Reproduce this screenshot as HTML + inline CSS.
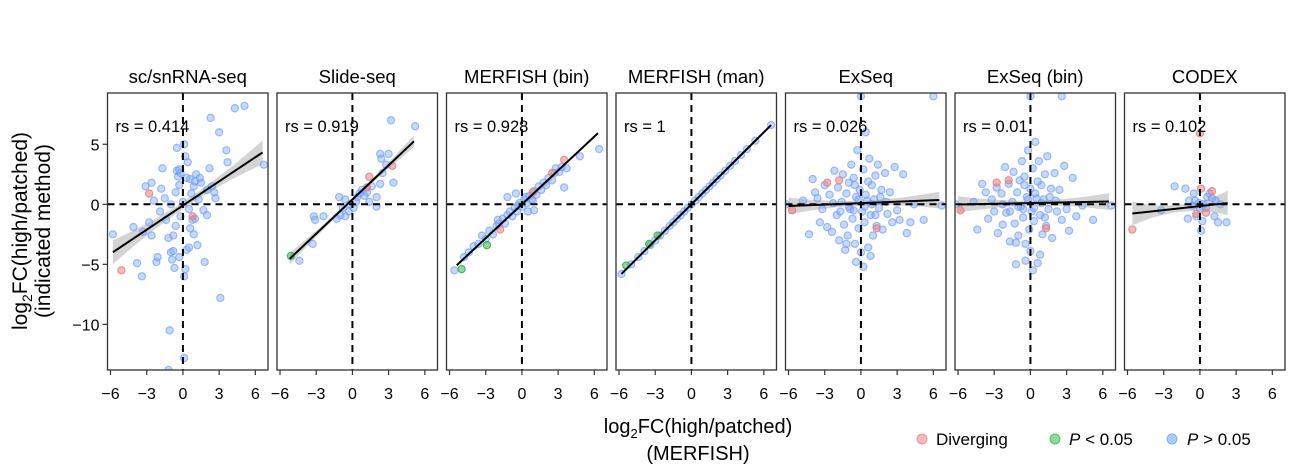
<!DOCTYPE html>
<html><head><meta charset="utf-8"><style>
html,body{margin:0;padding:0;background:#fff;}
svg{display:block;font-family:"Liberation Sans",sans-serif;}
</style></head><body>
<svg id="chart" width="1305" height="471" viewBox="0 0 1305 471" xmlns="http://www.w3.org/2000/svg">
<g id="panels"></g>
<text transform="translate(27,231) rotate(-90)" text-anchor="middle" font-size="21">log<tspan font-size="14" dy="5">2</tspan><tspan dy="-5">FC(high/patched)</tspan></text>
<text transform="translate(50,231) rotate(-90)" text-anchor="middle" font-size="21">(indicated method)</text>
<text x="698" y="433" text-anchor="middle" font-size="20">log<tspan font-size="13" dy="5">2</tspan><tspan dy="-5">FC(high/patched)</tspan></text>
<text x="698" y="460" text-anchor="middle" font-size="20">(MERFISH)</text>
<g font-size="17">
<circle cx="922" cy="439" r="5" fill="rgba(235,130,130,0.55)" stroke="rgba(235,130,130,0.8)"/>
<text x="936" y="445">Diverging</text>
<circle cx="1055" cy="439" r="5" fill="rgba(70,190,90,0.6)" stroke="rgba(70,190,90,0.9)"/>
<text x="1069" y="445"><tspan font-style="italic">P</tspan> &lt; 0.05</text>
<circle cx="1172" cy="439" r="5" fill="rgba(110,160,245,0.55)" stroke="rgba(110,160,245,0.8)"/>
<text x="1187" y="445"><tspan font-style="italic">P</tspan> &gt; 0.05</text>
</g>
</svg>
<script>
const titles = ["sc/snRNA-seq","Slide-seq","MERFISH (bin)","MERFISH (man)","ExSeq","ExSeq (bin)","CODEX"];
const rsLabels = ["rs = 0.414","rs = 0.919","rs = 0.928","rs = 1","rs = 0.026","rs = 0.01","rs = 0.102"];
const xTicks = [-6,-3,0,3,6];
const yTicks = [5,0,-5,-10];
const fitX0 = [-5.8,-5.2,-5.4,-5.8,-6.0,-6.0,-5.6];
const fitX1 = [6.6,5.1,6.3,6.6,6.5,6.5,2.3];
const fitSlope = [0.67,0.95,0.94,1.0,0.04,0.02,0.11];
const fitIntercept = [-0.1,0.4,0.0,0.0,0.1,0.1,-0.15];
const ciWidth = [1.0,0.5,0.15,0.05,0.7,0.7,1.0];
const blue0 = [[-5.8,-2.5],[-4.1,-1.9],[-3.8,-4.9],[-3.4,-6.0],[-3.1,1.5],[-2.6,1.8],[-2.8,-1.5],[-2.2,-4.8],[-2.1,-4.4],[-1.9,-0.6],[-1.7,3.0],[-1.8,1.3],[-1.5,0.5],[-1.4,-1.3],[-1.2,-2.8],[-1.0,-4.0],[-0.9,-4.6],[-0.8,-3.9],[-0.7,-5.3],[-1.1,-10.5],[-1.2,-13.8],[0.1,-12.8],[0.1,-6.0],[0.2,-5.4],[0.3,-3.8],[0.5,-3.6],[0.6,-2.0],[0.8,-1.3],[-0.5,2.8],[-0.4,2.3],[-0.3,1.6],[-0.2,2.6],[-0.6,1.0],[0.4,3.5],[0.6,2.1],[0.9,1.5],[1.1,2.5],[1.3,0.4],[1.5,1.8],[1.7,-0.5],[2.0,-0.9],[2.2,3.0],[2.4,1.5],[2.6,1.0],[2.7,0.5],[3.1,-7.8],[3.0,6.0],[3.6,4.5],[3.7,3.5],[6.7,3.3],[-0.5,4.7],[0.2,4.0],[1.0,-1.2],[-1.0,0.0],[0.0,0.2],[-0.2,-1.0],[0.5,-0.4],[1.8,-4.8],[0.9,-2.5],[1.2,-3.4],[-0.3,-4.4],[-2.6,-2.6],[-3.3,-2.3],[-0.6,-1.8],[0.7,0.9],[1.4,2.2],[2.0,1.2],[5.1,8.2],[4.3,8.0],[2.3,7.2],[0.1,5.0],[-2.4,0.3],[-0.3,2.9],[0.3,2.2],[1.0,1.9],[-0.8,-2.6]];
const red0 = [[-5.1,-5.5],[-2.8,0.9],[0.8,-1.0]];
const green0 = [];
const blue1 = [[-4.4,-4.7],[-3.3,-3.3],[-3.2,-1.0],[-3.1,-1.3],[-2.4,-1.0],[-1.3,-1.2],[-1.0,-0.9],[-0.6,-1.0],[-0.3,-0.6],[0.1,-0.3],[-1.1,0.6],[-0.6,0.4],[0.4,0.6],[0.6,0.9],[0.8,1.2],[1.0,0.7],[1.2,1.0],[1.4,0.2],[2.0,0.6],[2.0,-0.2],[2.3,1.7],[2.3,4.2],[2.4,3.8],[2.8,3.3],[3.0,4.2],[3.4,1.8],[3.2,7.0],[5.2,6.5],[-0.2,0.0],[0.3,0.2],[1.6,1.5],[-0.8,-0.3],[2.5,2.6]];
const red1 = [[1.4,2.3],[1.2,1.4],[3.3,3.2]];
const green1 = [[-5.1,-4.3]];
const blue2 = [[-5.6,-5.5],[-4.8,-4.4],[-4.4,-4.0],[-4.0,-3.5],[-3.6,-3.3],[-3.3,-2.6],[-3.0,-2.9],[-2.7,-2.2],[-2.4,-2.5],[-2.1,-1.8],[-1.9,-1.6],[-1.6,-1.2],[-1.4,-1.6],[-1.2,-0.9],[-1.0,-0.6],[-0.8,-1.0],[-0.6,-0.3],[-0.4,-0.6],[-0.2,0.1],[0.0,-0.2],[0.2,0.4],[0.4,0.1],[0.6,0.7],[0.8,0.4],[1.0,1.1],[1.2,0.8],[1.4,1.5],[1.6,1.2],[1.8,1.8],[2.0,1.6],[2.2,2.2],[2.5,2.0],[2.8,3.0],[3.1,2.7],[3.3,3.1],[3.7,3.0],[3.5,1.4],[1.0,-0.5],[-1.2,0.6],[-0.5,0.9],[0.5,-0.6],[4.8,4.0],[6.4,4.6],[2.7,2.6],[0.3,0.6],[-0.3,-0.1],[0.9,0.3],[-2.0,-1.3]];
const red2 = [[2.5,2.6],[3.5,3.7],[-1.8,-2.1],[0.9,1.0]];
const green2 = [[-5.0,-5.4],[-2.9,-3.4]];
const blue3 = [[-5.8,-5.8],[-5.0,-5.0],[-4.4,-4.4],[-3.9,-3.9],[-3.4,-3.4],[-3.0,-3.0],[-2.6,-2.6],[-2.2,-2.2],[-1.8,-1.8],[-1.5,-1.5],[-1.2,-1.2],[-0.9,-0.9],[-0.6,-0.6],[-0.3,-0.3],[0.0,0.0],[0.3,0.3],[0.6,0.6],[0.9,0.9],[1.2,1.2],[1.5,1.5],[1.8,1.8],[2.1,2.1],[2.4,2.4],[2.8,2.8],[3.2,3.2],[3.6,3.6],[4.1,4.1],[4.6,4.6],[5.3,5.3],[6.6,6.6]];
const red3 = [];
const green3 = [[-5.4,-5.1],[-3.5,-3.3],[-2.8,-2.6]];
const blue4 = [[-6.2,0.0],[-4.8,0.3],[-4.3,-2.5],[-4.0,2.1],[-3.8,1.0],[-3.6,0.5],[-3.4,-1.5],[-3.2,-0.4],[-3.0,1.6],[-2.8,-1.9],[-2.6,0.8],[-2.4,-2.3],[-2.2,2.8],[-2.0,-0.9],[-1.9,1.4],[-1.8,-3.0],[-1.6,0.2],[-1.5,2.5],[-1.4,-1.7],[-1.3,-3.8],[-1.2,0.9],[-1.1,-2.6],[-1.0,1.8],[-0.9,-0.4],[-0.8,3.3],[-0.7,-1.2],[-0.6,2.2],[-0.5,-3.3],[-0.4,0.6],[-0.3,4.5],[-0.2,-2.0],[-0.1,1.2],[0.0,-4.0],[0.0,9.0],[0.1,-0.6],[0.2,2.9],[0.3,-1.5],[0.4,6.0],[0.5,0.3],[0.6,-3.6],[0.7,3.8],[0.8,-0.9],[0.9,1.6],[1.0,-2.6],[1.1,0.4],[1.2,2.4],[1.3,-1.8],[1.4,3.3],[1.5,-0.3],[1.7,1.2],[1.8,-2.1],[2.0,2.6],[2.2,-0.8],[2.4,1.0],[2.6,-1.5],[2.8,3.1],[3.0,-0.5],[3.2,-1.3],[3.5,2.5],[3.8,-2.4],[4.1,-1.5],[4.4,0.0],[5.2,-1.3],[6.7,-0.1],[6.0,9.0],[-0.6,-0.5],[0.4,0.8],[-1.0,-0.2],[0.9,0.0],[-0.2,0.4],[0.3,-0.2],[1.6,0.6],[-1.7,-0.6],[2.1,0.2],[-2.3,0.1],[-0.4,-4.8],[0.8,-4.3],[-1.2,-3.3],[0.2,-5.2],[-0.5,1.6],[0.6,1.9],[1.2,-0.9]];
const red4 = [[-5.7,-0.5],[-2.8,1.8],[-1.8,2.0],[1.3,-2.0]];
const green4 = [];
const blue5 = [[-6.2,0.0],[-4.7,0.2],[-4.4,-2.1],[-4.0,1.7],[-3.7,1.0],[-3.5,-1.2],[-3.2,0.4],[-3.0,-0.6],[-2.8,1.4],[-2.7,-2.4],[-2.4,0.9],[-2.3,-1.7],[-2.1,3.1],[-2.0,-0.7],[-1.8,1.7],[-1.7,-3.1],[-1.5,0.2],[-1.4,2.7],[-1.3,-1.6],[-1.2,-5.0],[-1.1,1.0],[-1.0,-2.6],[-0.9,2.0],[-0.8,-0.2],[-0.7,3.6],[-0.6,-1.1],[-0.5,2.3],[-0.4,-3.3],[-0.3,0.6],[-0.2,4.5],[-0.1,-2.1],[0.0,1.3],[0.0,-3.9],[0.0,9.0],[0.1,-0.6],[0.2,3.0],[0.3,-1.4],[0.4,5.2],[0.5,0.5],[0.6,-4.9],[0.7,3.6],[0.8,-0.9],[0.9,1.6],[1.0,-2.5],[1.1,0.4],[1.2,2.5],[1.3,-1.8],[1.4,4.0],[1.5,-0.4],[1.7,1.3],[1.8,-2.8],[2.0,2.6],[2.2,-0.6],[2.4,1.2],[2.6,-1.3],[2.8,3.2],[3.0,-0.4],[3.2,-2.2],[3.5,2.2],[3.8,-1.0],[4.3,-0.1],[5.2,-1.3],[6.7,-0.1],[2.6,9.0],[-0.6,-0.4],[0.4,0.9],[-1.0,-0.2],[0.9,0.1],[-0.2,0.4],[0.3,-0.3],[1.6,0.6],[-1.7,-0.6],[2.1,0.3],[-2.3,0.0],[-0.4,-4.7],[0.8,-4.2],[-1.2,-3.2],[0.2,-5.5],[-0.5,1.6],[0.6,1.9],[1.2,-1.1]];
const red5 = [[-5.8,-0.5],[-2.8,1.8],[-1.8,2.0],[1.3,-2.0]];
const green5 = [];
const blue6 = [[-3.2,-0.5],[-2.1,1.5],[-1.2,1.3],[-1.0,-1.2],[-0.9,0.3],[-0.6,-0.1],[-0.4,0.3],[-0.3,-1.0],[-0.1,0.1],[0.0,-0.4],[0.1,-2.2],[0.2,-1.4],[0.3,0.0],[0.5,-0.3],[0.6,0.6],[0.8,0.9],[1.0,0.5],[1.2,-1.0],[1.5,-1.5],[1.7,0.0],[2.2,-1.5],[1.3,0.3],[-0.5,0.9]];
const red6 = [[-5.6,-2.1],[0.0,5.9],[0.1,1.3],[1.0,1.1],[-0.3,-0.8],[0.5,-0.7]];
const green6 = [];
const blues=[blue0,blue1,blue2,blue3,blue4,blue5,blue6];
const reds=[red0,red1,red2,red3,red4,red5,red6];
const greens=[green0,green1,green2,green3,green4,green5,green6];

const NS="http://www.w3.org/2000/svg";
const X0=107.5, STEP=169.5, W=160.5, TOP=93, BOT=370;
const XMIN=-6.25, XMAX=7.05, YMIN=-13.8, YMAX=9.27;
function xs(i,v){return X0+i*STEP+(v-XMIN)/(XMAX-XMIN)*W;}
function ys(v){return BOT-(v-YMIN)/(YMAX-YMIN)*(BOT-TOP);}
function mk(tag,attrs,parent){const e=document.createElementNS(NS,tag);for(const k in attrs)e.setAttribute(k,attrs[k]);parent.appendChild(e);return e;}
const root=document.getElementById('panels');
titles.forEach((t,i)=>{
  const g=mk('g',{},root);
  
  
  const cp=mk('clipPath',{id:'cp'+i},g);
  mk('rect',{x:X0+i*STEP,y:TOP,width:W,height:BOT-TOP},cp);
  const tt=mk('text',{x:X0+i*STEP+W/2,y:83,'text-anchor':'middle','font-size':'18.5'},g);
  tt.textContent=t;
  
  
  const plot=mk('g',{'clip-path':'url(#cp'+i+')'},g);
  // CI band
  const a=fitX0[i],b=fitX1[i],m=fitSlope[i],c=fitIntercept[i],w=ciWidth[i];
  const mid=(a+b)/2, n=20, up=[], dn=[];
  for(let k=0;k<=n;k++){const x=a+(b-a)*k/n;const d=w*(0.3+0.7*Math.pow((x-mid)/((b-a)/2),2));up.push(xs(i,x)+','+ys(m*x+c+d));dn.unshift(xs(i,x)+','+ys(m*x+c-d));}
  const band=mk('polygon',{points:up.concat(dn).join(' '),fill:'rgba(160,160,160,0.45)'},plot);
  
  
  const addPts=(arr,fill,stroke,name)=>arr.forEach(p=>{const ci=mk('circle',{cx:xs(i,p[0]),cy:ys(p[1]),r:3.6,fill:fill,stroke:stroke,'stroke-width':1.2},plot);
    
    });
  addPts(blues[i],'rgba(130,170,245,0.45)','rgba(100,150,245,0.6)','point-nonsignificant');
  addPts(reds[i],'rgba(235,130,130,0.55)','rgba(230,120,120,0.75)','point-diverging');
  addPts(greens[i],'rgba(70,190,90,0.6)','rgba(60,170,80,0.85)','point-significant');
  const ln=mk('line',{x1:xs(i,a),y1:ys(m*a+c),x2:xs(i,b),y2:ys(m*b+c),stroke:'#000','stroke-width':2},plot);
  
  
  const h=mk('line',{x1:X0+i*STEP,y1:ys(0),x2:X0+i*STEP+W,y2:ys(0),stroke:'#000','stroke-width':2,'stroke-dasharray':'7,5'},g);
  
  
  const v=mk('line',{x1:xs(i,0),y1:TOP,x2:xs(i,0),y2:BOT,stroke:'#000','stroke-width':2,'stroke-dasharray':'7,5'},g);
  
  
  const fr=mk('rect',{x:X0+i*STEP,y:TOP,width:W,height:BOT-TOP,fill:'none',stroke:'#333','stroke-width':1.3},g);
  
  
  const rs=mk('text',{x:X0+i*STEP+8,y:132,'font-size':'16.5'},g);
  rs.textContent=rsLabels[i];
  
  
  xTicks.forEach(tv=>{
    const tk=mk('line',{x1:xs(i,tv),y1:BOT,x2:xs(i,tv),y2:BOT+5,stroke:'#333','stroke-width':1.2},g);
    
    
    const tl=mk('text',{x:xs(i,tv),y:399,'text-anchor':'middle','font-size':'16'},g);
    tl.textContent=tv<0?'\u2212'+(-tv):String(tv);
    
    
  });
});
yTicks.forEach(tv=>{
  const tk=mk('line',{x1:X0-5,y1:ys(tv),x2:X0,y2:ys(tv),stroke:'#333','stroke-width':1.2},root);
  
  
  const tl=mk('text',{x:X0-8,y:ys(tv)+6,'text-anchor':'end','font-size':'16'},root);
  tl.textContent=tv<0?'\u2212'+(-tv):String(tv);
  
  
});
</script>
</body></html>
